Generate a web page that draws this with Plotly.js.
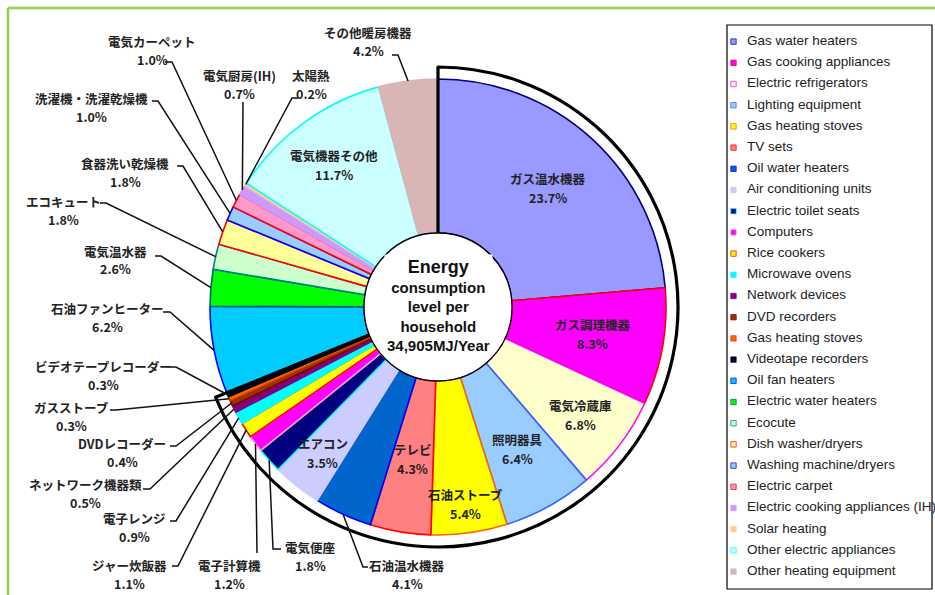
<!DOCTYPE html>
<html>
<head>
<meta charset="utf-8">
<script src="https://cdn.plot.ly/plotly-3.0.1.min.js"></script>
<style>
  body { margin: 0; background: #fff; }
  #pie { width: 935px; height: 595px; }
</style>
</head>
<body>
<div id="pie"></div>
<script>
// household energy use by appliance, % of 34,905MJ/year
var jpNames = ['ガス温水機器', 'ガス調理機器', '電気冷蔵庫', '照明器具', '石油ストーブ', 'テレビ',
  '石油温水機器', 'エアコン', '電気便座', '電子計算機', 'ジャー炊飯器', '電子レンジ',
  'ネットワーク機器類', 'DVDレコーダー', 'ガスストーブ', 'ビデオテープレコーダー', '石油ファンヒーター',
  '電気温水器', 'エコキュート', '食器洗い乾燥機', '洗濯機・洗濯乾燥機', '電気カーペット',
  '電気厨房(IH)', '太陽熱', '電気機器その他', 'その他暖房機器']
var enNames = ['Gas water heaters', 'Gas cooking appliances', 'Electric refrigerators', 'Lighting equipment',
  'Gas heating stoves', 'TV sets', 'Oil water heaters', 'Air conditioning units', 'Electric toilet seats',
  'Computers', 'Rice cookers', 'Microwave ovens', 'Network devices', 'DVD recorders', 'Gas heating stoves ',
  'Videotape recorders', 'Oil fan heaters', 'Electric water heaters', 'Ecocute', 'Dish washer/dryers',
  'Washing machine/dryers', 'Electric carpet', 'Electric cooking appliances (IH)', 'Solar heating',
  'Other electric appliances', 'Other heating equipment']
var shares = [23.7, 8.3, 6.8, 6.4, 5.4, 4.3, 4.1, 3.5, 1.8, 1.2, 1.1, 0.9, 0.5, 0.4, 0.3, 0.3, 6.2,
  2.6, 1.8, 1.8, 1.0, 1.0, 0.7, 0.2, 11.7, 4.2]
var outlinedCount = 16   // gas / oil group framed in black

var fills = ['#9999FF', '#FF00FF', '#FFFFCC', '#99CCFF', '#FFFF00', '#FF8080', '#0066CC', '#CCCCFF',
  '#000080', '#FF00FF', '#FFFF00', '#00FFFF', '#800080', '#993300', '#FF6600', '#000033', '#00CCFF',
  '#00FF00', '#CCFFCC', '#FFFF99', '#99CCFF', '#FF99CC', '#CC99FF', '#FFCC99', '#CCFFFF', '#D9B5B5']
var edges = ['#000080', '#FF0000', '#FF00FF', '#3366FF', '#FF6600', '#FF0000', '#0000FF', '#CCCCFF',
  '#00FFFF', '#FF99CC', '#FF0000', '#00FFFF', '#800080', '#800000', '#CC4400', '#000000', '#0000FF',
  '#006666', '#008080', '#FF0000', '#0000FF', '#FF0000', '#CC99FF', '#FFCC99', '#00FFFF', '#D9B5B5']

// label placement in pixels: inside labels by radius, outside ones by text centre + leader bends
var insideR = {0: 162, 1: 157, 2: 179, 3: 163, 4: 199, 5: 154, 7: 186, 24: 176}
var outsideAt = {
  25: [368, 41, [[392, 55], [398, 55]]],
  23: [311, 84, [[298, 98], [292, 98]]],
  22: [239, 84, [[243, 102]]],
  21: [152, 51, [[165, 62], [172, 62]]],
  20: [91, 108, [[152, 101], [158, 101]]],
  19: [125, 172, [[177, 166], [183, 166]]],
  18: [63, 210, [[100, 203], [106, 203]]],
  17: [115, 260, [[155, 256], [161, 256]]],
  16: [107, 317, [[163, 312], [170, 312]]],
  15: [103, 375, [[170, 367], [176, 367]]],
  14: [71, 416, [[110, 410], [116, 410]]],
  13: [122, 452, [[170, 446], [176, 446]]],
  12: [85, 493, [[143, 489], [150, 489]]],
  11: [134, 527, [[170, 521], [176, 521]]],
  10: [129, 574, [[172, 566], [178, 566]]],
  9: [229, 574, [[257, 553]]],
  8: [310, 556, [[281, 549], [273, 549]]],
  6: [407, 574, [[368, 567], [363, 567]]]
}

var W = 935, H = 595
var cx = 438, cy = 307, R = 228, ringR = 240, holeR = 74

function dom(r) {
  return {x: [(cx - r) / W, (cx + r) / W], y: [(H - cy - r) / H, (H - cy + r) / H]}
}
function px(x) { return x / W }
function py(y) { return 1 - y / H }

var total = shares.reduce(function (a, b) { return a + b }, 0)
function pointAt(i, r) {
  var before = 0
  for (var k = 0; k < i; k++) before += shares[k]
  var a = (before + shares[i] / 2) / total * 2 * Math.PI
  return [cx + r * Math.sin(a), cy - r * Math.cos(a)]
}

var labelFont = {family: 'Noto Sans CJK JP', size: 12.5, color: '#222', weight: 'bold'}
var annotations = []
var leaders = []
function note(x, y, text, font) {
  return {xref: 'paper', yref: 'paper', x: px(x), y: py(y), xanchor: 'center', yanchor: 'middle',
    text: text, showarrow: false, font: font}
}
function twoLines(i, x, y, gap) {
  annotations.push(note(x, y - gap, jpNames[i], labelFont))
  annotations.push(note(x, y + gap, shares[i].toFixed(1) + '%', labelFont))
}
for (var i = 0; i < shares.length; i++) {
  if (insideR[i] !== undefined) {
    var p = pointAt(i, insideR[i])
    twoLines(i, p[0], p[1], 9.5)
  } else if (outsideAt[i]) {
    var o = outsideAt[i]
    twoLines(i, o[0], o[1], 9)
    var pts = o[2].concat([pointAt(i, R)])
    var d = pts.map(function (q, k) { return (k ? 'L' : 'M') + px(q[0]) + ',' + py(q[1]) }).join(' ')
    leaders.push({type: 'path', xref: 'paper', yref: 'paper', path: d, line: {color: '#111', width: 1.5}})
  }
}
var centre = note(cx, cy - 1,
  '<span style="font-size:18px">Energy</span><br>consumption<br>level per<br>household<br>34,905MJ/Year',
  {family: 'Liberation Sans', size: 15, color: '#111', weight: 'bold'})
centre.bgcolor = '#fff'
centre.borderpad = 2
annotations.push(centre)

var mainPie = {
  type: 'pie',
  labels: enNames.map(function (s) { return '<span style="font-size:13.5px">' + s + '</span>' }),
  values: shares,
  sort: false,
  direction: 'clockwise',
  rotation: 0,
  hole: holeR / R,
  domain: dom(R),
  textinfo: 'none',
  hoverinfo: 'label+percent',
  marker: {colors: fills, line: {color: edges, width: 1.6}}
}

var groupSum = shares.slice(0, outlinedCount).reduce(function (a, b) { return a + b }, 0)
var outline = {
  type: 'pie',
  values: [groupSum, total - groupSum],
  labels: ['group', 'rest'],
  sort: false,
  direction: 'clockwise',
  hole: 60 / ringR,
  domain: dom(ringR),
  textinfo: 'none',
  hoverinfo: 'skip',
  showlegend: false,
  marker: {colors: ['rgba(0,0,0,0)', 'rgba(0,0,0,0)'], line: {color: ['#000', '#000'], width: [3.2, 0]}}
}

var green = '#92D050'
var frame = [
  {type: 'line', xref: 'paper', yref: 'paper', x0: px(8), x1: 1, y0: py(8), y1: py(8), line: {color: green, width: 2.5}},
  {type: 'line', xref: 'paper', yref: 'paper', x0: px(8), x1: px(8), y0: 0, y1: py(8), line: {color: green, width: 2.5}},
  {type: 'rect', xref: 'paper', yref: 'paper', x0: px(727), x1: px(932), y0: py(589), y1: py(25), line: {color: '#000', width: 1.2}},
  {type: 'circle', xref: 'paper', yref: 'paper', layer: 'above',
    x0: px(cx - holeR), x1: px(cx + holeR), y0: py(cy + holeR), y1: py(cy - holeR),
    fillcolor: '#fff', line: {color: '#000', width: 1.3}}
]

var layout = {
  width: W,
  height: H,
  margin: {l: 0, r: 0, t: 0, b: 0, autoexpand: false},
  paper_bgcolor: '#fff',
  showlegend: true,
  legend: {
    x: px(707), y: py(24), xanchor: 'left', yanchor: 'top',
    bgcolor: 'rgba(0,0,0,0)', borderwidth: 0,
    font: {family: 'Liberation Sans', size: 14, color: '#222'}
  },
  shapes: frame.concat(leaders),
  annotations: annotations
}

Plotly.newPlot('pie', [mainPie, outline], layout, {displayModeBar: false, staticPlot: true}).then(function (gd) {
  // the reference uses tiny legend swatches
  gd.querySelectorAll('.legend .legendpoints path').forEach(function (p) {
    p.setAttribute('transform', 'translate(26.5,2) scale(0.45)')
  })
})
</script>
</body>
</html>
